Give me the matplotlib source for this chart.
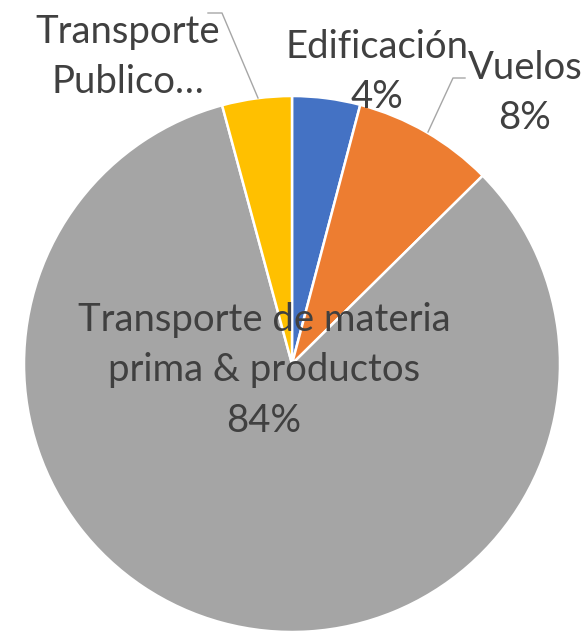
import matplotlib
matplotlib.use("Agg")
import matplotlib.pyplot as plt

# Datos del gráfico (sentido horario desde arriba)
categorias = ["Edificación", "Vuelos", "Transporte de materia\nprima & productos", "Transporte\nPublico…"]
porcentajes = [4.1, 8.5, 83.2, 4.2]
etiquetas_pct = ["4%", "8%", "84%", ""]
colores = ["#4472C4", "#ED7D31", "#A5A5A5", "#FFC000"]

W, H = 585, 635
fig = plt.figure(figsize=(W / 100, H / 100), dpi=100)
ax = fig.add_axes([0, 0, 1, 1])
ax.set_xlim(0, W)
ax.set_ylim(0, H)
ax.set_aspect("equal")
ax.axis("off")

centro = (292, H - 364)
radio = 268
ax.pie(porcentajes, colors=colores, startangle=90, counterclock=False,
       center=centro, radius=radio,
       wedgeprops=dict(edgecolor="white", linewidth=1.8))
ax.set_xlim(0, W)
ax.set_ylim(0, H)

fuente = dict(family="Lato", fontsize=27.5, color="#404040",
              ha="center", va="center", linespacing=1.5)

# Etiquetas de datos (posiciones en píxeles desde arriba)
pos_texto = [(377, 72), (525, 93), (264, 370), (128, 57)]
for cat, pct, (x, y) in zip(categorias, etiquetas_pct, pos_texto):
    texto = cat if pct == "" else cat + "\n" + pct
    ax.text(x, H - y, texto, **fuente)

# Líneas guía
ax.plot([208, 222, 258], [H - 13, H - 13, H - 98], color="#A6A6A6", lw=1)
ax.plot([465, 453, 428], [H - 78, H - 78, H - 132], color="#A6A6A6", lw=1)

fig.savefig("out.png", dpi=100)
